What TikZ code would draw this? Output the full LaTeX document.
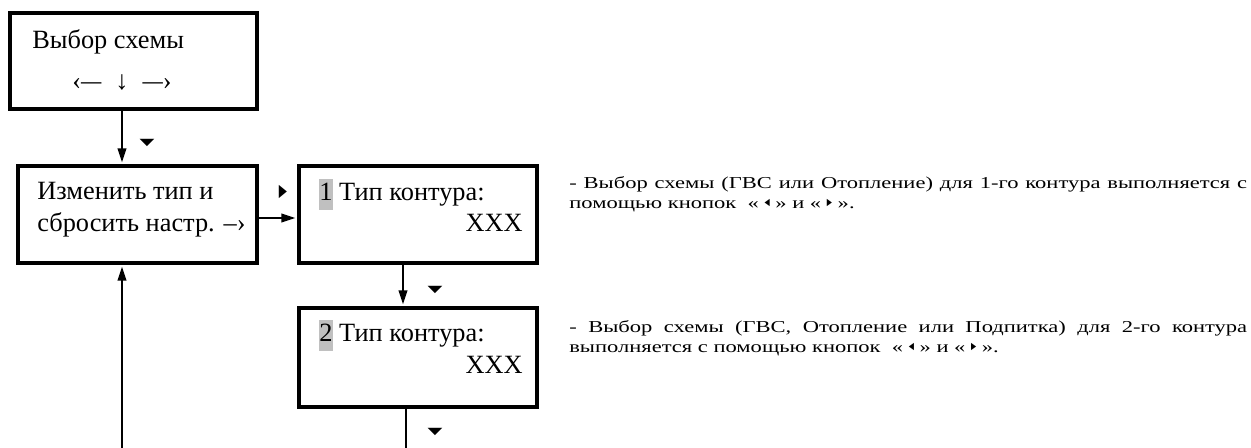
\documentclass[tikz,border=0pt]{standalone}
\usepackage{fontspec}
\setmainfont{Liberation Serif}
\newfontfamily\symfont{DejaVu Sans}
\newfontfamily\notefont[FakeStretch=1.35]{Liberation Serif}
\usepackage{xcolor}
\usetikzlibrary{positioning, calc, arrows.meta}

\definecolor{hlgray}{RGB}{192,192,192}
\newcommand{\hlnum}[1]{{\setlength\fboxsep{0pt}\colorbox{hlgray}{\strut #1}}}
\newcommand{\btnleft}{\raisebox{0.45ex}{\scalebox{0.7}[1]{\symfont\fontsize{5.5}{5.5}\selectfont ◀}}}
\newcommand{\btnright}{\raisebox{0.45ex}{\scalebox{0.7}[1]{\symfont\fontsize{5.5}{5.5}\selectfont ▶}}}
\newcommand{\keydash}{\scalebox{0.77}[1]{—}}

\begin{document}
\begin{tikzpicture}[
    x=0.02cm, y=-0.02cm,
    screen/.style={rectangle, draw, line width=2.2pt, inner sep=0pt},
    line/.style={anchor=base west, inner sep=0pt, font=\fontsize{15}{18}\selectfont},
    note/.style={anchor=base west, inner sep=0pt, text width=13.56cm, align=justify, font=\notefont\fontsize{9.5}{11.3}\selectfont},
    flow/.style={line width=0.9pt, -{Triangle[length=8pt,width=5pt]}, shorten >=1pt},
    marker/.style={inner sep=0pt, font=\symfont\fontsize{11}{11}\selectfont}
]
    \useasboundingbox (0,0) rectangle (1251,448);

    % Screens
    \node[screen, minimum width=4.94cm, minimum height=1.92cm] (scheme) at (133.5,61) {};
    \node[screen, minimum width=4.78cm, minimum height=1.94cm] (reset) at (137.5,214.5) {};
    \node[screen, minimum width=4.76cm, minimum height=1.94cm] (loopone) at (418,214.5) {};
    \node[screen, minimum width=4.76cm, minimum height=1.98cm] (looptwo) at (418,357.5) {};

    % Screen texts
    \node[line] (schemetitle) at (32,49) {Выбор схемы};
    \node[line, anchor=base] (schemekeys) at (122,90) {‹\keydash\hspace{8pt}↓\hspace{8pt}\keydash›};
    \node[line] (resetone) at (37,200) {Изменить тип и};
    \node[line] (resettwo) at (37,232) {сбросить настр. –›};
    \node[line] (looponetitle) at (319,201) {\hlnum{1} Тип контура:};
    \node[line, anchor=base east] (looponeval) at (523,232) {XXX};
    \node[line] (looptwotitle) at (319,342) {\hlnum{2} Тип контура:};
    \node[line, anchor=base east] (looptwoval) at (523,374) {XXX};

    % Key markers
    \node[marker] (mscheme) at (147,143) {\scalebox{1}[0.5]{▼}};
    \node[marker] (mreset) at (283,192) {\scalebox{0.55}[0.9]{▶}};
    \node[marker] (mloopone) at (435,290) {\scalebox{1}[0.5]{▼}};
    \node[marker] (mlooptwo) at (435,432) {\scalebox{1}[0.5]{▼}};

    % Notes
    \node[note] (noteone) at (569,189) {- Выбор схемы (ГВС или Отопление) для 1-го контура выполняется с\linebreak
        помощью кнопок~ «~\btnleft~» и «~\btnright~».};
    \node[note] (notetwo) at (569,333) {- Выбор схемы (ГВС, Отопление или Подпитка) для 2-го контура\linebreak
        выполняется с помощью кнопок~ «~\btnleft~» и «~\btnright~».};

    % Open ends
    \coordinate (backin) at (122,448);
    \coordinate (exittwo) at (406,448);

    % Connections
    \draw[flow] ([xshift=-0.23cm]scheme.south) -- ([xshift=-0.23cm]scheme.south |- reset.north);
    \draw[flow] ([yshift=-0.07cm]reset.east) -- ([yshift=-0.07cm]reset.east -| loopone.west);
    \draw[flow] ([xshift=-0.3cm]loopone.south) -- ([xshift=-0.3cm]loopone.south |- looptwo.north);
    \draw[line width=0.9pt] ([xshift=-0.24cm]looptwo.south) -- (exittwo);
    \draw[flow] (backin) -- (backin |- reset.south);
\end{tikzpicture}
\end{document}
